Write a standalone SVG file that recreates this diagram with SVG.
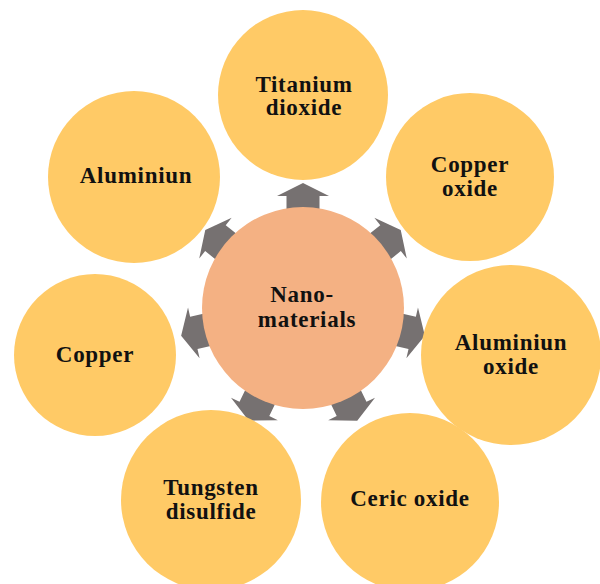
<svg xmlns="http://www.w3.org/2000/svg" width="600" height="584" viewBox="0 0 600 584">
<style>
.outer{fill:#FFCA66;}
.center{fill:#F4B183;}
.arr{fill:#767171;}
.t{font-family:"Liberation Serif","Times New Roman",serif;font-weight:bold;font-size:23px;fill:#111;text-anchor:middle;letter-spacing:0.7px;}
</style>
<defs>
<path id="ar" d="M286.5,215 L286.5,196 L277,196 L303,183 L329,196 L319.5,196 L319.5,215 Z"/>
</defs>
<rect width="600" height="584" fill="#fff"/>
<g id="connectors">
<use href="#ar" class="arr"/>
<use href="#ar" class="arr" transform="rotate(51.43 303 308)"/>
<use href="#ar" class="arr" transform="rotate(102.86 303 308)"/>
<use href="#ar" class="arr" transform="rotate(154.29 303 308)"/>
<use href="#ar" class="arr" transform="rotate(205.71 303 308)"/>
<use href="#ar" class="arr" transform="rotate(257.14 303 308)"/>
<use href="#ar" class="arr" transform="rotate(308.57 303 308)"/>
</g>
<g id="titanium-dioxide">
<circle class="outer" cx="303" cy="95" r="85"/>
<text class="t" x="304" y="92">Titanium</text>
<text class="t" x="304" y="115">dioxide</text>
</g>
<g id="copper-oxide">
<circle class="outer" cx="470" cy="177" r="84"/>
<text class="t" x="470" y="172">Copper</text>
<text class="t" x="470" y="196">oxide</text>
</g>
<g id="aluminiun-oxide">
<circle class="outer" cx="511" cy="355" r="90"/>
<text class="t" x="511" y="350">Aluminiun</text>
<text class="t" x="511" y="374">oxide</text>
</g>
<g id="ceric-oxide">
<circle class="outer" cx="410" cy="502" r="89"/>
<text class="t" x="410" y="506">Ceric oxide</text>
</g>
<g id="tungsten-disulfide">
<circle class="outer" cx="211" cy="500" r="90"/>
<text class="t" x="211" y="495">Tungsten</text>
<text class="t" x="211" y="519">disulfide</text>
</g>
<g id="copper">
<circle class="outer" cx="95" cy="355" r="81"/>
<text class="t" x="95" y="362">Copper</text>
</g>
<g id="aluminium">
<circle class="outer" cx="134" cy="177" r="86"/>
<text class="t" x="136" y="183">Aluminiun</text>
</g>
<g id="nano-materials">
<circle class="center" cx="303" cy="308" r="101"/>
<text class="t" x="302" y="302">Nano-</text>
<text class="t" x="307" y="327">materials</text>
</g>
</svg>
